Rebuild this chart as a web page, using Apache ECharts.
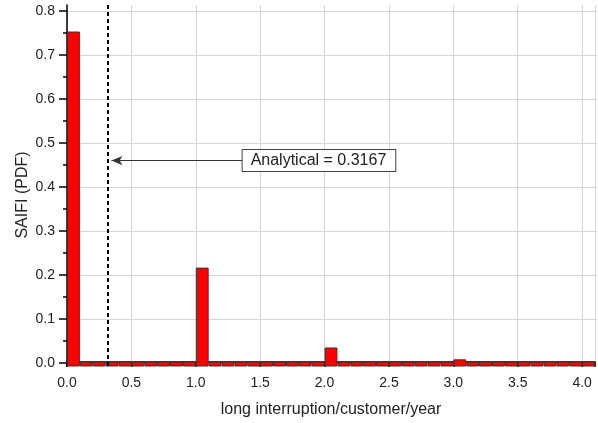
<!DOCTYPE html>
<html>
<head>
<meta charset="utf-8">
<script src="https://cdn.jsdelivr.net/npm/echarts@6/dist/echarts.min.js"></script>
<style>
  html, body { margin: 0; padding: 0; background: #fff; }
  #chart { width: 598px; height: 423px; }
</style>
</head>
<body>
<div id="chart"></div>
<script>
// histogram bins (left edges) and their probabilities
const binStarts = [
  0.0, 0.1, 0.2, 0.3, 0.4, 0.5, 0.6, 0.7, 0.8, 0.9,
  1.0, 1.1, 1.2, 1.3, 1.4, 1.5, 1.6, 1.7, 1.8, 1.9,
  2.0, 2.1, 2.2, 2.3, 2.4, 2.5, 2.6, 2.7, 2.8, 2.9,
  3.0, 3.1, 3.2, 3.3, 3.4, 3.5, 3.6, 3.7, 3.8, 3.9,
  4.0
]
const pdfValues = [
  0.752, 0, 0, 0, 0, 0, 0, 0, 0, 0,
  0.214, 0, 0, 0, 0, 0, 0, 0, 0, 0,
  0.032, 0, 0, 0, 0, 0, 0, 0, 0, 0,
  0.005, 0, 0, 0, 0, 0, 0, 0, 0, 0,
  0
]
const binWidth = 0.1
const analytical = 0.3167
const annotation = { text: 'Analytical = 0.3167', boxX: 1.36, tipX: 0.345, y: 0.459 }

// outer frame extends slightly past 0 and 0.8, like the Origin plot
const yMin = -0.00909
const yMax = 0.81364

const font = 'Arial, "Liberation Sans", sans-serif'
const chart = echarts.init(document.getElementById('chart'))

const option = {
  backgroundColor: '#fff',
  animation: false,
  grid: [
    { left: 67, right: 1, top: 5, bottom: 56 },
    { left: 67, right: 1, top: 11, bottom: 60 }
  ],
  xAxis: [
    {
      gridIndex: 0,
      type: 'value',
      min: 0,
      max: 4.1,
      interval: 0.5,
      name: 'long interruption/customer/year',
      nameLocation: 'middle',
      nameGap: 36,
      nameMoveOverlap: false,
      nameTextStyle: { fontSize: 16, color: '#222', fontFamily: font },
      axisLine: { lineStyle: { color: '#000', width: 1.5 } },
      axisTick: { length: 5, lineStyle: { color: '#000', width: 1.5 } },
      minorTick: { show: true, splitNumber: 2, length: 3, lineStyle: { color: '#000', width: 1.5 } },
      axisLabel: {
        margin: 10,
        fontSize: 14,
        color: '#222',
        fontFamily: font,
        formatter: (v) => (v > 4.05 ? '' : v.toFixed(1))
      },
      splitLine: { show: true, lineStyle: { color: '#d4d4d4', width: 1 } }
    },
    { gridIndex: 1, type: 'value', min: 0, max: 4.1, show: false }
  ],
  yAxis: [
    {
      gridIndex: 0,
      type: 'value',
      min: yMin,
      max: yMax,
      axisLine: { show: true, lineStyle: { color: '#000', width: 1.5 } },
      axisTick: { show: false },
      axisLabel: { show: false },
      splitLine: { show: false }
    },
    {
      gridIndex: 1,
      type: 'value',
      min: 0,
      max: 0.8,
      interval: 0.1,
      name: 'SAIFI (PDF)',
      nameLocation: 'middle',
      nameGap: 36,
      nameMoveOverlap: false,
      nameTextStyle: { fontSize: 16, color: '#222', fontFamily: font, padding: [0, 16, 0, 0] },
      axisLine: { show: false },
      axisTick: { show: true, length: 8, lineStyle: { color: '#000', width: 1.5 } },
      minorTick: { show: true, splitNumber: 2, length: 4, lineStyle: { color: '#000', width: 1.5 } },
      axisLabel: {
        margin: 12,
        fontSize: 14,
        color: '#222',
        fontFamily: font,
        formatter: (v) => v.toFixed(1)
      },
      splitLine: { show: true, lineStyle: { color: '#d4d4d4', width: 1 } }
    }
  ],
  series: [
    {
      type: 'custom',
      xAxisIndex: 0,
      yAxisIndex: 0,
      data: binStarts.map((x, i) => [x, pdfValues[i]]),
      renderItem: (params, api) => {
        const x0 = api.value(0)
        const v = api.value(1)
        const topLeft = api.coord([x0 + 0.004, v])
        const bottomRight = api.coord([x0 + binWidth - 0.004, yMin])
        return {
          type: 'rect',
          shape: {
            x: topLeft[0],
            y: topLeft[1],
            width: bottomRight[0] - topLeft[0],
            height: bottomRight[1] - topLeft[1]
          },
          style: { fill: '#ff0000', stroke: '#333', lineWidth: 1 }
        }
      },
      markLine: {
        silent: true,
        symbol: ['none', 'none'],
        label: { show: false },
        lineStyle: { color: '#000', width: 2, type: [4, 3] },
        data: [{ xAxis: analytical }]
      }
    },
    {
      type: 'line',
      xAxisIndex: 0,
      yAxisIndex: 0,
      data: [],
      markLine: {
        silent: true,
        symbol: ['none', 'arrow'],
        symbolSize: [7, 11],
        label: { show: false },
        lineStyle: { color: '#333', width: 1, type: 'solid' },
        data: [[
          { coord: [annotation.boxX, annotation.y] },
          { coord: [annotation.tipX, annotation.y] }
        ]]
      },
      markPoint: {
        silent: true,
        symbol: 'rect',
        symbolSize: 1,
        itemStyle: { color: 'rgba(0,0,0,0)' },
        label: {
          show: true,
          position: 'right',
          distance: 0,
          formatter: annotation.text,
          fontSize: 16,
          color: '#222',
          fontFamily: font,
          backgroundColor: '#fff',
          borderColor: '#444',
          borderWidth: 1,
          padding: [3, 9, 2, 8]
        },
        data: [{ coord: [annotation.boxX, annotation.y] }]
      }
    }
  ]
}

chart.setOption(option)
</script>
</body>
</html>
